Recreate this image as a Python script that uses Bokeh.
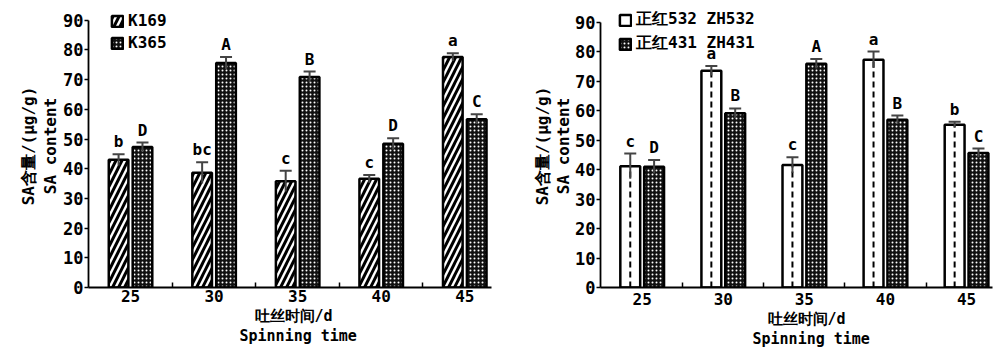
from bokeh.plotting import figure
from bokeh.models import (ColumnDataSource, FixedTicker, Whisker, TeeHead, Legend, LegendItem,
                          Range1d, Title)
from bokeh.layouts import row
from bokeh.core.properties import value
from bokeh.embed import file_html
from bokeh.resources import INLINE

# ---------------- data ----------------
days = ["25", "30", "35", "40", "45"]

k169 = [43.0, 38.6, 35.8, 36.6, 77.6]
k169_err = [1.9, 3.6, 3.5, 1.3, 1.3]
k169_sig = ["b", "bc", "c", "c", "a"]

k365 = [47.3, 75.6, 70.9, 48.4, 56.7]
k365_err = [1.5, 2.0, 1.8, 1.9, 1.6]
k365_sig = ["D", "A", "B", "D", "C"]

zh532 = [41.2, 73.6, 41.6, 77.3, 55.3]
zh532_err = [4.3, 1.6, 2.6, 2.8, 1.0]
zh532_sig = ["c", "a", "c", "a", "b"]

zh431 = [41.0, 59.2, 76.0, 57.0, 45.7]
zh431_err = [2.3, 1.6, 1.6, 1.4, 1.5]
zh431_sig = ["D", "B", "A", "B", "C"]

y_ticks = [0, 10, 20, 30, 40, 50, 60, 70, 80, 90]
x_label_lines = ["吐丝时间/d", "Spinning time"]
y_label_lines = ["SA含量/(μg/g)", "SA content"]

FONT_STR = "DejaVu Sans Mono"
FONT = value(FONT_STR)


def series_source(vals, errs, sigs, offset):
    xs = [i + offset for i in range(len(vals))]
    return ColumnDataSource(dict(
        x=xs, top=vals,
        upper=[v + e for v, e in zip(vals, errs)],
        lower=[v - e for v, e in zip(vals, errs)],
        sig=sigs))


def title(text, align="center", offset=0, standoff=0, size="16px"):
    return Title(text=text, align=align, offset=offset, standoff=standoff,
                 text_font=FONT_STR, text_font_style="bold", text_font_size=size,
                 text_color="black")


def make_panel(width, height, borders, xr, ytop, s1, s2, names, offset, bw, dashed_first,
               legend_loc, tick_standoff, xoffs, ystand):
    bl, br, bt, bb = borders
    p = figure(width=width, height=height, output_backend="svg", toolbar_location=None,
               x_range=Range1d(*xr), y_range=Range1d(0, ytop),
               min_border_left=bl, min_border_right=br, min_border_top=bt, min_border_bottom=bb)
    p.outline_line_color = None
    p.xgrid.visible = False
    p.ygrid.visible = False
    p.background_fill_color = "white"
    p.border_fill_color = "white"

    src1 = series_source(*s1, -offset)
    src2 = series_source(*s2, offset)

    if dashed_first:
        r1 = p.vbar(x="x", top="top", width=bw, source=src1, fill_color="white",
                    line_color="black", line_width=2.5)
        p.segment(x0="x", y0=0, x1="x", y1="top", source=src1, line_color="black",
                  line_width=2, line_dash="6 4")
    else:
        r1 = p.vbar(x="x", top="top", width=bw, source=src1, fill_color="white",
                    line_color="black", line_width=2.5,
                    hatch_pattern="right_diagonal_line", hatch_color="black",
                    hatch_scale=12, hatch_weight=3)
    r2 = p.vbar(x="x", top="top", width=bw, source=src2, fill_color="#111111",
                line_color="black", line_width=2.5,
                hatch_pattern="dot", hatch_color="white", hatch_scale=4, hatch_weight=1.4)

    for src in (src1, src2):
        w = Whisker(base="x", upper="upper", lower="lower", source=src,
                    line_color="#444444", line_width=2, level="overlay",
                    upper_head=TeeHead(size=12, line_color="#444444", line_width=2),
                    lower_head=None)
        p.add_layout(w)
        p.text(x="x", y="upper", text="sig", source=src, text_align="center",
               text_baseline="bottom", y_offset=-3, text_font=FONT,
               text_font_style="bold", text_font_size="16px", text_color="black")

    # axes
    p.xaxis.ticker = FixedTicker(ticks=list(range(len(days))), minor_ticks=[0.5, 1.5, 2.5, 3.5])
    p.xaxis.major_label_overrides = {i: d for i, d in enumerate(days)}
    p.xaxis.major_tick_line_color = None
    p.xaxis.major_tick_in = 0
    p.xaxis.major_tick_out = 0
    p.xaxis.minor_tick_in = 5
    p.xaxis.minor_tick_out = 0
    p.xaxis.minor_tick_line_width = 1.5
    p.yaxis.ticker = FixedTicker(ticks=y_ticks, minor_ticks=[])
    p.yaxis.bounds = (0, 90)
    p.yaxis.major_tick_in = 0
    p.yaxis.major_tick_out = 4
    for ax in (p.xaxis, p.yaxis):
        ax.axis_line_width = 1.8
        ax.axis_line_color = "black"
        ax.major_tick_line_width = 1.5
        ax.major_label_text_font = FONT_STR
        ax.major_label_text_font_style = "bold"
        ax.major_label_text_font_size = "17px"
        ax.major_label_text_color = "black"
    p.xaxis.major_label_text_font_size = "16px"
    p.xaxis.major_label_standoff = tick_standoff
    p.yaxis.major_label_standoff = 1

    # axis titles (two lines each)
    p.add_layout(title(x_label_lines[0], "left", xoffs[0], 0, "15px"), "below")
    p.add_layout(title(x_label_lines[1], "left", xoffs[1], 0, "15px"), "below")
    p.add_layout(title(y_label_lines[1], "center", 0, ystand), "left")
    p.add_layout(title(y_label_lines[0], "center", 0, 0), "left")

    legend = Legend(items=[LegendItem(label=names[0], renderers=[r1]),
                           LegendItem(label=names[1], renderers=[r2])],
                    location=legend_loc, orientation="vertical",
                    background_fill_alpha=0, border_line_color=None,
                    padding=0, margin=0, spacing=3,
                    glyph_width=14, glyph_height=14, label_height=16,
                    label_standoff=4,
                    label_text_font=FONT_STR, label_text_font_style="bold",
                    label_text_font_size="16px", label_text_color="black")
    p.add_layout(legend)
    return p


left = make_panel(530, 363, (88, 39, 4, 71), (-0.503, 4.32), 95.3,
                  (k169, k169_err, k169_sig), (k365, k365_err, k365_sig),
                  ["K169", "K365"], 0.143, 0.235, False, (22, 235), 2,
                  (166, 151), 2)
right = make_panel(470, 363, (67, 8, 4, 76), (-0.514, 4.32), 96.1,
                   (zh532, zh532_err, zh532_sig), (zh431, zh431_err, zh431_sig),
                   ["正红532 ZH532", "正红431 ZH431"], 0.147, 0.245, True, (18, 233), 5,
                   (167, 152), 0)

layout = row(left, right)
open("out.html", "w").write(file_html(layout, INLINE))
